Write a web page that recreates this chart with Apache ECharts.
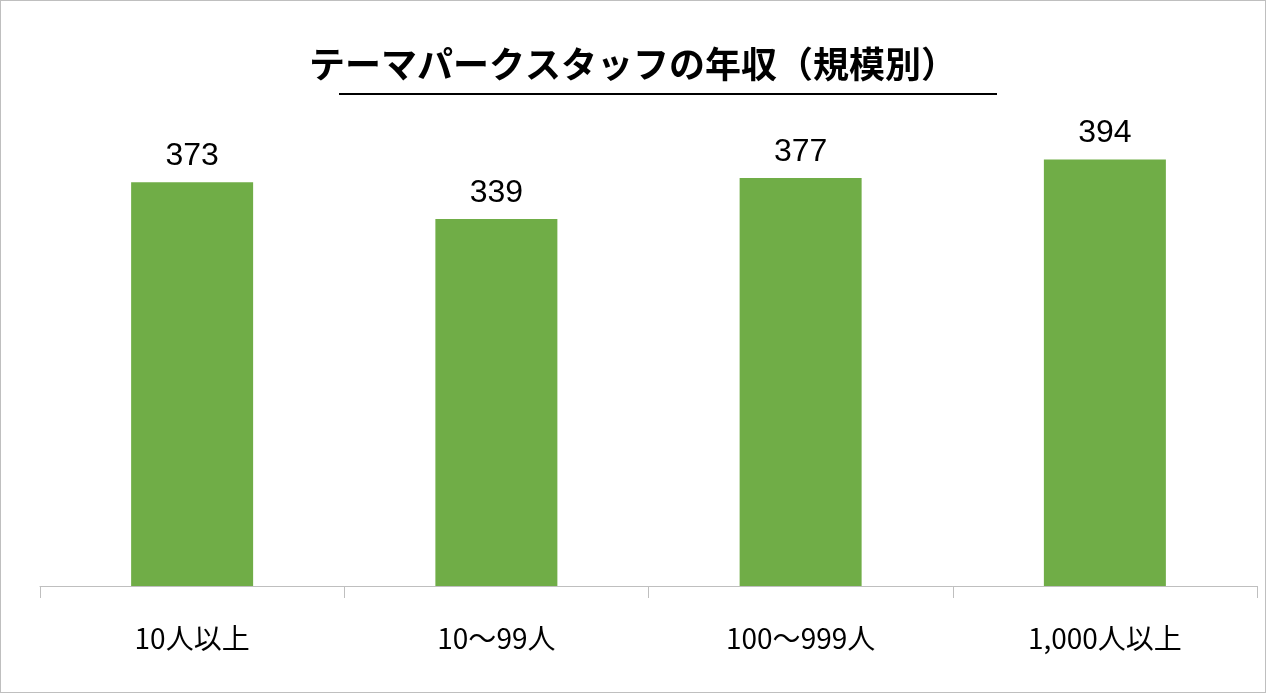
<!DOCTYPE html>
<html><head><meta charset="utf-8">
<script src="https://cdn.jsdelivr.net/npm/echarts@6/dist/echarts.min.js"></script>
<style>html,body{margin:0;padding:0;background:#fff}#c{width:1266px;height:693px;box-sizing:border-box;border:1px solid #bfbfbf}</style>
</head><body><div id="c"></div>
<script>
const categories = ['10人以上','10～99人','100～999人','1,000人以上'];
const values = [373, 339, 377, 394];
const titleText = 'テーマパークスタッフの年収（規模別）';
const chart = echarts.init(document.getElementById('c'));
chart.setOption({
  animation:false,
  title:{text:titleText,left:'center',top:40,textStyle:{fontFamily:'Noto Sans CJK JP',fontSize:36,fontWeight:'bold',color:'#000'}},
  graphic:[{type:'line',shape:{x1:338,y1:93,x2:996,y2:93},style:{stroke:'#000',lineWidth:2}}],
  grid:{left:39,right:8,top:152,bottom:106},
  xAxis:{type:'category',data:categories,
    axisLine:{lineStyle:{color:'#bfbfbf'}},
    axisTick:{show:true,length:12,lineStyle:{color:'#bfbfbf'}},
    axisLabel:{margin:38,fontSize:28,color:'#000',fontFamily:'Noto Sans CJK JP'}},
  yAxis:{type:'value',min:0,max:400,show:false},
  series:[{type:'bar',data:values,barWidth:122,itemStyle:{color:'#70ad47'},
    label:{show:true,position:'top',distance:10,fontSize:32,color:'#000',fontFamily:'Liberation Sans'}}]
});
</script></body></html>
